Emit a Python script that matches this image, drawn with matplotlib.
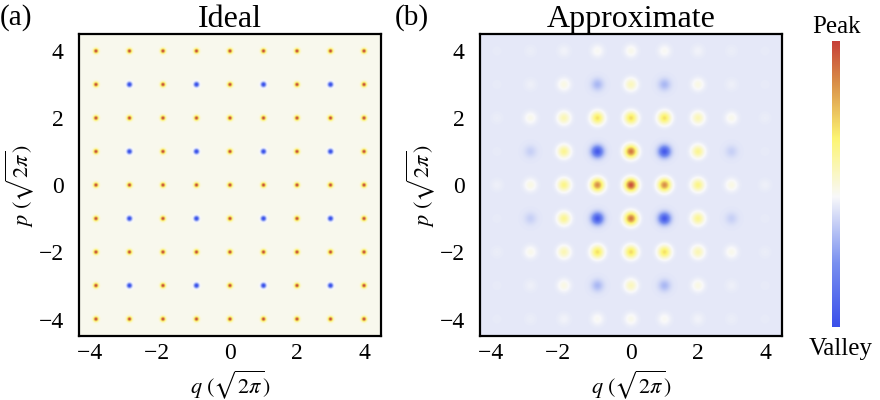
import numpy as np
import matplotlib
matplotlib.use("Agg")
from matplotlib import pyplot as plt
from matplotlib.colors import LinearSegmentedColormap

plt.rcParams['font.family'] = ['Liberation Serif', 'DejaVu Serif']
plt.rcParams['mathtext.fontset'] = 'stix'

# lattice positions (units of sqrt(2 pi))
q_pos = [-4, -3, -2, -1, 0, 1, 2, 3, 4]
p_pos = [4, 3, 2, 1, 0, -1, -2, -3, -4]

# ideal GKP: peak signs, rows p = 4 .. -4, cols q = -4 .. 4
ideal_amp = [
    [1, 1, 1, 1, 1, 1, 1, 1, 1],
    [1, -1, 1, -1, 1, -1, 1, -1, 1],
    [1, 1, 1, 1, 1, 1, 1, 1, 1],
    [1, -1, 1, -1, 1, -1, 1, -1, 1],
    [1, 1, 1, 1, 1, 1, 1, 1, 1],
    [1, -1, 1, -1, 1, -1, 1, -1, 1],
    [1, 1, 1, 1, 1, 1, 1, 1, 1],
    [1, -1, 1, -1, 1, -1, 1, -1, 1],
    [1, 1, 1, 1, 1, 1, 1, 1, 1],
]

# approximate GKP: peak heights
approx_amp = [
    [0.01, 0.02, 0.04, 0.08, 0.10, 0.08, 0.04, 0.02, 0.01],
    [0.01, 0.03, 0.12, -0.18, 0.22, -0.18, 0.12, 0.03, 0.01],
    [0.02, 0.10, 0.24, 0.48, 0.50, 0.48, 0.24, 0.10, 0.02],
    [0.01, -0.09, 0.33, -0.65, 0.82, -0.65, 0.33, -0.09, 0.01],
    [0.03, 0.12, 0.36, 0.75, 0.95, 0.75, 0.36, 0.12, 0.03],
    [0.01, -0.09, 0.33, -0.65, 0.82, -0.65, 0.33, -0.09, 0.01],
    [0.02, 0.10, 0.24, 0.48, 0.50, 0.48, 0.24, 0.10, 0.02],
    [0.01, 0.03, 0.12, -0.18, 0.22, -0.18, 0.12, 0.03, 0.01],
    [0.01, 0.02, 0.04, 0.08, 0.10, 0.08, 0.04, 0.02, 0.01],
]

ticks = [-4, -2, 0, 2, 4]
xtick_labels = ['\u22124\u2002', '\u22122\u2002', '0', '2', '4']
ytick_labels = ['\u22124', '\u22122', '0', '2', '4']
lim = 4.5

cmap = LinearSegmentedColormap.from_list('peakvalley', [
    (0.00, (0.23, 0.31, 0.92)),
    (0.22, (0.47, 0.56, 0.94)),
    (0.455, (0.975, 0.975, 0.98)),
    (0.66, (0.99, 0.96, 0.45)),
    (0.86, (0.85, 0.55, 0.28)),
    (1.00, (0.78, 0.25, 0.22)),
])


def blob_image(amp, sigma, n=700):
    g = np.linspace(-lim, lim, n)
    X, Y = np.meshgrid(g, g[::-1])
    Z = np.zeros_like(X)
    for i, p in enumerate(p_pos):
        for j, q in enumerate(q_pos):
            Z += amp[i][j] * np.exp(-((X - q) ** 2 + (Y - p) ** 2) / (2 * sigma ** 2))
    return Z


fig = plt.figure(figsize=(8.8, 4.0), dpi=100)
ax1 = fig.add_axes([0.0898, 0.158, 0.343, 0.757])
ax2 = fig.add_axes([0.5455, 0.158, 0.343, 0.757])
cax = fig.add_axes([0.9455, 0.1825, 0.009, 0.715])

ax1.imshow(blob_image(ideal_amp, 0.05), cmap=cmap, vmin=-0.9, vmax=1.0,
           extent=[-lim, lim, -lim, lim], interpolation='antialiased')
ax2.imshow(blob_image(approx_amp, 0.125), cmap=cmap, vmin=-0.72, vmax=1.0,
           extent=[-lim, lim, -lim, lim], interpolation='antialiased')

for ax, title in [(ax1, 'Ideal'), (ax2, 'Approximate')]:
    ax.set_xlim(-lim, lim)
    ax.set_ylim(-lim, lim)
    ax.set_xticks(ticks)
    ax.set_yticks(ticks)
    ax.set_xticklabels(xtick_labels)
    ax.set_yticklabels(ytick_labels)
    ax.tick_params(length=0, labelsize=17, pad=5)
    ax.tick_params(axis='y', pad=11)
    ax.set_title(title, fontsize=23, pad=4)
    ax.set_xlabel(r'$q\ (\sqrt{2\pi})$', fontsize=16, labelpad=3)
    ax.set_ylabel(r'$p\ (\sqrt{2\pi})$', fontsize=16, labelpad=2)
    for s in ax.spines.values():
        s.set_linewidth(1.6)

fig.text(0.0, 0.99, '(a)', fontsize=21, ha='left', va='top')
fig.text(0.449, 0.99, '(b)', fontsize=21, ha='left', va='top')

grad = np.linspace(0, 1, 256).reshape(-1, 1)
cax.imshow(grad, cmap=cmap, aspect='auto', origin='lower', extent=[0, 1, 0, 1])
cax.set_xticks([])
cax.set_yticks([])
for s in cax.spines.values():
    s.set_visible(False)
fig.text(0.9506, 0.9175, 'Peak', fontsize=18, ha='center', va='baseline')
fig.text(0.955, 0.1125, 'Valley', fontsize=18, ha='center', va='baseline')

fig.savefig('out.png', dpi=100)
